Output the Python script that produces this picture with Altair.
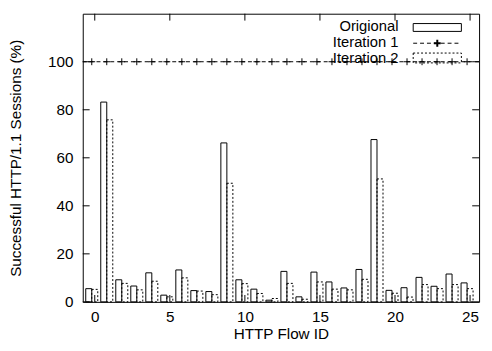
import altair as alt
import pandas as pd

# ---- data ----
flow_ids = [0, 1, 2, 3, 4, 5, 6, 7, 8, 9, 10, 11, 12, 13, 14, 15, 16, 17, 18, 19, 20, 21, 22, 23, 24, 25]
origional = [5.5, 83.2, 9.2, 6.6, 12.1, 2.8, 13.3, 4.7, 4.3, 66.2, 9.2, 5.3, 0.7, 12.7, 2.1,
             12.4, 8.3, 5.8, 13.5, 67.6, 4.8, 5.9, 10.2, 6.5, 11.6, 7.9]
iteration1 = [100, 100, 100, 100, 100, 100, 100, 100, 100, 100, 100, 100, 100, 100, 100,
              100, 100, 100, 100, 100, 100, 100, 100, 100, 100, 100]
iteration2 = [5.2, 75.8, 7.7, 5.0, 8.6, 2.1, 10.0, 4.5, 3.0, 49.4, 7.6, 3.5, 1.4, 7.7, 1.1,
              8.3, 5.3, 5.0, 9.4, 51.2, 3.6, 2.0, 7.2, 5.5, 7.2, 5.5]
x_ticks = [0, 5, 10, 15, 20, 25]
y_ticks = [0, 20, 40, 60, 80, 100]
legend_labels = ["Origional", "Iteration 1", "Iteration 2"]

# ---- layout / style ----
W, H = 403, 293
FONT = "Liberation Sans"
FS = 15.5
LFS = 15
BAR_W = 0.4

df = pd.DataFrame({"id": flow_ids, "orig": origional, "it1": iteration1, "it2": iteration2})
df["o_x"] = df["id"] - 1.5 * BAR_W
df["o_x2"] = df["id"] - 0.5 * BAR_W
df["i2_x2"] = df["id"] + 0.5 * BAR_W
df["zero"] = 0

xs = alt.Scale(domain=[-0.8, 25.6], nice=False, zero=False)
ys = alt.Scale(domain=[0, 120], nice=False)

x_axis = alt.Axis(values=x_ticks, ticks=False, domain=False, grid=False, labelFont=FONT,
                  labelFontSize=FS, labelPadding=8, labelColor="black", title="HTTP Flow ID",
                  titleFont=FONT, titleFontSize=FS, titleFontWeight="normal", titleColor="black",
                  titlePadding=2, labelFlush=False)
y_axis = alt.Axis(values=y_ticks, ticks=False, domain=False, grid=False, labelFont=FONT,
                  labelFontSize=FS, labelPadding=10, labelColor="black",
                  title="Successful HTTP/1.1 Sessions (%)", titleFont=FONT, titleFontSize=FS,
                  titleFontWeight="normal", titleColor="black", titlePadding=24)


def X(f):
    return alt.X(f, scale=xs, axis=x_axis)


def Y(f):
    return alt.Y(f, scale=ys, axis=y_axis)


base = alt.Chart(df)

orig_bars = base.mark_rect(fill="white", fillOpacity=0, stroke="black", strokeWidth=1).encode(
    x=X("o_x:Q"), x2="o_x2:Q", y=Y("orig:Q"), y2="zero:Q",
)
it2_bars = base.mark_rect(fill="white", fillOpacity=0, stroke="black", strokeWidth=1,
                          strokeDash=[2, 2]).encode(
    x=X("o_x2:Q"), x2="i2_x2:Q", y=Y("it2:Q"), y2="zero:Q",
)
it1_line = base.mark_rule(color="black", strokeWidth=1, strokeDash=[4, 3]).encode(
    y=Y("max(it1):Q")
)
PLUS = "M-1,0L1,0M0,-1L0,1"
it1_pts = base.mark_point(shape=PLUS, size=49, filled=False, color="black", strokeWidth=1,
                          opacity=1).encode(x=X("o_x2:Q"), y=Y("it1:Q"))

# inward mirrored ticks
yt = alt.Chart(pd.DataFrame({"v": y_ticks}))
xt = alt.Chart(pd.DataFrame({"v": x_ticks}))
TL = 7
ytick_l = yt.mark_rule(color="black").encode(y=Y("v:Q"), x=alt.value(0), x2=alt.value(TL))
ytick_r = yt.mark_rule(color="black").encode(y=Y("v:Q"), x=alt.value(W - TL), x2=alt.value(W))
xtick_b = xt.mark_rule(color="black").encode(x=X("v:Q"), y=alt.value(H), y2=alt.value(H - TL))
xtick_t = xt.mark_rule(color="black").encode(x=X("v:Q"), y=alt.value(0), y2=alt.value(TL))

# legend (top-right, inside)
one = alt.Chart(pd.DataFrame({"a": [0]}))
LX_TEXT, LX0, LX1 = 321, 336, 385
ROWS = [13, 29, 45]
leg_texts = [
    one.mark_text(text=legend_labels[i], align="right", baseline="middle", font=FONT,
                  fontSize=LFS, color="black").encode(x=alt.value(LX_TEXT), y=alt.value(ROWS[i]))
    for i in range(3)
]
leg_orig = one.mark_rect(fill="white", fillOpacity=0, stroke="black", strokeWidth=1).encode(
    x=alt.value(LX0), x2=alt.value(LX1), y=alt.value(ROWS[0] - 3), y2=alt.value(ROWS[0] + 5))
leg_it1 = one.mark_rule(color="black", strokeDash=[4, 3]).encode(
    x=alt.value(LX0), x2=alt.value(LX1), y=alt.value(ROWS[1] + 1))
leg_it1p = one.mark_point(shape=PLUS, size=49, filled=False, color="black", opacity=1).encode(
    x=alt.value((LX0 + LX1) / 2), y=alt.value(ROWS[1] + 1))
leg_it2 = one.mark_rect(fill="white", fillOpacity=0, stroke="black", strokeWidth=1,
                        strokeDash=[2, 2]).encode(
    x=alt.value(LX0), x2=alt.value(LX1), y=alt.value(ROWS[2] - 5), y2=alt.value(ROWS[2] + 5))

chart = alt.layer(
    orig_bars, it2_bars, ytick_l, ytick_r, xtick_b, xtick_t, it1_line, it1_pts,
    *leg_texts, leg_orig, leg_it1, leg_it1p, leg_it2,
).properties(
    width=W, height=H,
    autosize=alt.AutoSizeParams(type="none"),
    padding={"left": 76, "top": 3, "right": 5, "bottom": 39},
    background="white",
).configure_view(stroke="black", strokeWidth=1)

chart.save("out.html", embed_options={"renderer": "svg", "actions": False})
